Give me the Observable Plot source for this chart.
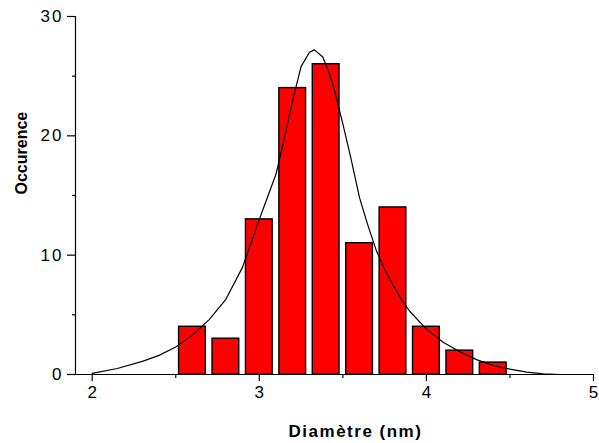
<!DOCTYPE html>
<html>
<head>
<meta charset="utf-8">
<script src="https://cdn.jsdelivr.net/npm/d3@7"></script>
<script src="https://cdn.jsdelivr.net/npm/@observablehq/plot@0.6"></script>
<style>
  body { margin: 0; background: #fff; }
  .xtitle { letter-spacing: 1.5px; }
</style>
</head>
<body>
<div id="chart"></div>
<script>
// Histogram bins (centres, nm) and counts
const binCenters = [2.6, 2.8, 3.0, 3.2, 3.4, 3.6, 3.8, 4.0, 4.2, 4.4];
const counts     = [4,   3,   13,  24,  26,  11,  14,  4,   2,   1];
const binHalfWidth = 0.08;

// Fitted curve
const curveX = [2.0, 2.15, 2.3, 2.4, 2.5, 2.6, 2.7, 2.8, 2.9, 3.0, 3.05, 3.1, 3.15, 3.2, 3.25, 3.3, 3.33, 3.38, 3.42, 3.45, 3.5, 3.55, 3.6, 3.65, 3.7, 3.75, 3.8, 3.85, 3.9, 4.0, 4.1, 4.2, 4.3, 4.4, 4.5, 4.6, 4.7, 4.8];
const curveY = [0.1, 0.5, 1.1, 1.6, 2.3, 3.3, 4.6, 6.3, 9.0, 13.0, 14.9, 16.8, 19.8, 23.0, 25.8, 27.0, 27.2, 26.6, 25.2, 23.8, 21.0, 18.0, 14.8, 12.5, 10.4, 8.8, 7.5, 6.3, 5.3, 3.8, 2.7, 1.9, 1.25, 0.75, 0.45, 0.2, 0.05, 0.0];

const xMajor = [2, 3, 4, 5];
const xMinor = [2.5, 3.5, 4.5];
const yMajor = [0, 10, 20, 30];
const yMinor = [5, 15, 25];
const xLabel = "Diamètre (nm)";
const yLabel = "Occurence";

const bars = binCenters.map((c, i) => ({x1: c - binHalfWidth, x2: c + binHalfWidth, y: counts[i]}));
const curve = curveX.map((x, i) => ({x, y: curveY[i]}));

const chart = Plot.plot({
  width: 599,
  height: 443,
  marginLeft: 75,
  marginRight: 6,
  marginTop: 16,
  marginBottom: 69,
  style: {fontFamily: "'Liberation Sans', Arial, sans-serif", fontSize: "16px", color: "#000", background: "#fff"},
  x: {domain: [1.9, 5]},
  y: {domain: [0, 30]},
  marks: [
    Plot.rectY(bars, {x1: "x1", x2: "x2", y: "y", fill: "#ff0000", stroke: "#000", strokeWidth: 1.4}),
    Plot.line(curve, {x: "x", y: "y", stroke: "#000", strokeWidth: 1.2}),
    Plot.ruleY([0], {x1: 1.9, x2: 5, stroke: "#000", strokeWidth: 1.2}),
    Plot.ruleX([1.9], {y1: 0, y2: 30, stroke: "#000", strokeWidth: 1.2}),
    Plot.axisX(xMajor, {tickSize: 7, tickPadding: 4, label: null, tickFormat: d => String(d), strokeWidth: 1.2}),
    Plot.axisX(xMinor, {tickSize: 4, tickFormat: () => "", label: null, strokeWidth: 1.2}),
    Plot.axisY(yMajor, {tickSize: 8, tickPadding: 4, label: null, tickFormat: d => String(d), strokeWidth: 1.2}),
    Plot.axisY(yMinor, {tickSize: 3, tickFormat: () => "", label: null, strokeWidth: 1.2}),
    Plot.text([xLabel], {frameAnchor: "bottom", dx: 21, dy: 62, lineAnchor: "bottom", fontWeight: "bold", fontSize: 17, className: "xtitle", text: d => d}),
    Plot.text([yLabel], {frameAnchor: "left", dx: -54, dy: -1, rotate: -90, fontWeight: "bold", fontSize: 16, text: d => d})
  ]
});
d3.select(chart).selectAll('[aria-label="y-axis tick label"] text').style("font-size", "17px").style("letter-spacing", "2px");
d3.select(chart).selectAll('[aria-label="x-axis tick label"] text').style("font-size", "17px");
document.getElementById("chart").appendChild(chart);
</script>
</body>
</html>
